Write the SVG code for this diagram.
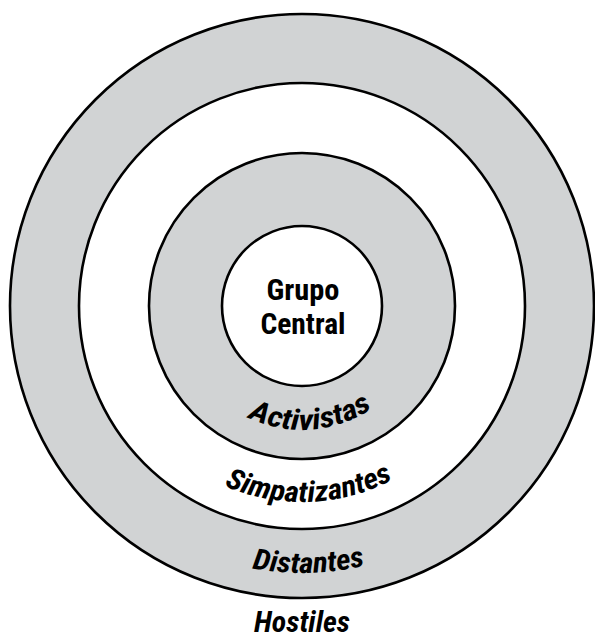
<svg xmlns="http://www.w3.org/2000/svg" width="595" height="639" viewBox="0 0 595 639">
<style>
.ring{stroke:#000;stroke-width:2.6}
.gray{fill:#d1d3d4}
.white{fill:#fff}
.lbl{font-family:'Liberation Sans Narrow','Roboto Condensed',Roboto,'Liberation Sans',sans-serif;font-weight:bold;font-size:29px;fill:#000}
.it{font-style:italic}
</style>
<defs>
<path id="arcA" d="M178,306 A124,124 0 0 0 426,306"/>
<path id="arcS" d="M106,306 A196,196 0 0 0 498,306"/>
<path id="arcD" d="M35,306 A267,267 0 0 0 569,306"/>
</defs>
<rect width="595" height="639" fill="#fff"/>
<g id="hostiles">
<text class="lbl it" x="302" y="632" font-size="28" text-anchor="middle" textLength="96" lengthAdjust="spacingAndGlyphs">Hostiles</text>
</g>
<g id="distantes">
<circle class="ring gray" cx="302" cy="306" r="292"/>
<text class="lbl it"><textPath href="#arcD" startOffset="426" text-anchor="middle" textLength="114" lengthAdjust="spacingAndGlyphs">Distantes</textPath></text>
</g>
<g id="simpatizantes">
<circle class="ring white" cx="302" cy="306" r="223"/>
<text class="lbl it"><textPath href="#arcS" startOffset="315" text-anchor="middle" textLength="175" lengthAdjust="spacingAndGlyphs">Simpatizantes</textPath></text>
</g>
<g id="activistas">
<circle class="ring gray" cx="302" cy="306" r="153"/>
<text class="lbl it"><textPath href="#arcA" startOffset="204" text-anchor="middle" textLength="131" lengthAdjust="spacingAndGlyphs">Activistas</textPath></text>
</g>
<g id="grupo-central">
<circle class="ring white" cx="302" cy="306" r="80"/>
<text class="lbl" x="303" y="300" text-anchor="middle" textLength="73" lengthAdjust="spacingAndGlyphs">Grupo</text>
<text class="lbl" x="303" y="334" text-anchor="middle" textLength="85" lengthAdjust="spacingAndGlyphs">Central</text>
</g>
<g id="connectors"></g>
</svg>
